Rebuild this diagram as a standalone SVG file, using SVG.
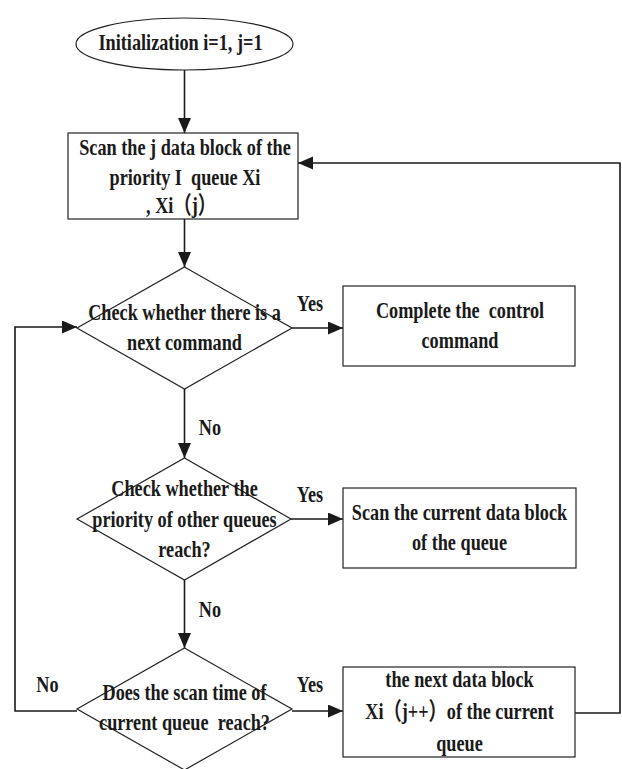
<svg xmlns="http://www.w3.org/2000/svg" width="622" height="769" viewBox="0 0 622 769">
<style>
.shape{fill:#fff;stroke:#222;stroke-width:1.2}
.conn{fill:none;stroke:#1a1a1a;stroke-width:1.6}
text{font-family:"Liberation Serif","Times New Roman","Noto Sans CJK SC",serif;font-weight:bold;font-size:24px;fill:#1a1a1a;text-anchor:middle;white-space:pre}
</style>
<defs>
<marker id="ah" markerUnits="userSpaceOnUse" markerWidth="16" markerHeight="14" refX="15" refY="6.5" orient="auto">
<path d="M0,0 L15,6.5 L0,13 Z" fill="#1a1a1a"/>
</marker>
</defs>
<g id="connectors">
<line class="conn" x1="184.5" y1="70" x2="184.5" y2="133" marker-end="url(#ah)"/>
<line class="conn" x1="184.5" y1="219" x2="184.5" y2="267" marker-end="url(#ah)"/>
<line class="conn" x1="184.5" y1="389" x2="184.5" y2="458" marker-end="url(#ah)"/>
<line class="conn" x1="184.5" y1="580" x2="184.5" y2="648" marker-end="url(#ah)"/>
<line class="conn" x1="292" y1="328" x2="343" y2="328" marker-end="url(#ah)"/>
<line class="conn" x1="291" y1="519" x2="343" y2="519" marker-end="url(#ah)"/>
<line class="conn" x1="292" y1="711" x2="343" y2="711" marker-end="url(#ah)"/>
<polyline class="conn" points="77,711 15,711 15,327 77,327" marker-end="url(#ah)"/>
<polyline class="conn" points="575,713 620,713 620,163 298,163" marker-end="url(#ah)"/>
<text transform="translate(210,435) scale(0.76,1)">No</text>
<text transform="translate(210,617) scale(0.76,1)">No</text>
<text transform="translate(47.5,692) scale(0.76,1)">No</text>
<text transform="translate(310,311) scale(0.76,1)">Yes</text>
<text transform="translate(310,502) scale(0.76,1)">Yes</text>
<text transform="translate(310,692) scale(0.76,1)">Yes</text>
</g>
<g id="start">
<ellipse class="shape" cx="184.5" cy="44" rx="108.5" ry="26"/>
<text transform="translate(180.5,50) scale(0.76,1)">Initialization i=1, j=1</text>
</g>
<g id="scan-block">
<rect class="shape" x="68" y="133" width="230" height="86"/>
<text transform="translate(185,155) scale(0.76,1)">Scan the j data block of the</text>
<text transform="translate(185,185) scale(0.76,1)">priority I  queue Xi</text>
<text transform="translate(181,213) scale(0.76,1)">, Xi（j）</text>
</g>
<g id="check-next">
<polygon class="shape" points="184.5,267 292,328 184.5,389 77,328"/>
<text transform="translate(184.5,320) scale(0.76,1)">Check whether there is a</text>
<text transform="translate(184.5,350) scale(0.76,1)">next command</text>
</g>
<g id="complete">
<rect class="shape" x="343" y="286" width="232" height="80"/>
<text transform="translate(460,318) scale(0.76,1)">Complete the  control</text>
<text transform="translate(460,348) scale(0.76,1)">command</text>
</g>
<g id="check-priority">
<polygon class="shape" points="184.5,458 291,519 184.5,580 77,519"/>
<text transform="translate(184.5,496) scale(0.76,1)">Check whether the</text>
<text transform="translate(184.5,527) scale(0.76,1)">priority of other queues</text>
<text transform="translate(184.5,557) scale(0.76,1)">reach?</text>
</g>
<g id="scan-current">
<rect class="shape" x="343" y="488" width="233" height="80"/>
<text transform="translate(459.5,520) scale(0.76,1)">Scan the current data block</text>
<text transform="translate(459.5,550) scale(0.76,1)">of the queue</text>
</g>
<g id="check-time">
<polygon class="shape" points="184.5,648 292,709 184.5,770 77,709"/>
<text transform="translate(184.5,700) scale(0.76,1)">Does the scan time of</text>
<text transform="translate(184.5,730) scale(0.76,1)">current queue  reach?</text>
</g>
<g id="next-block">
<rect class="shape" x="343" y="667" width="232" height="90"/>
<text transform="translate(459.5,687) scale(0.76,1)">the next data block</text>
<text transform="translate(459.5,719) scale(0.76,1)">Xi（j++）of the current</text>
<text transform="translate(459.5,751) scale(0.76,1)">queue</text>
</g>
</svg>
